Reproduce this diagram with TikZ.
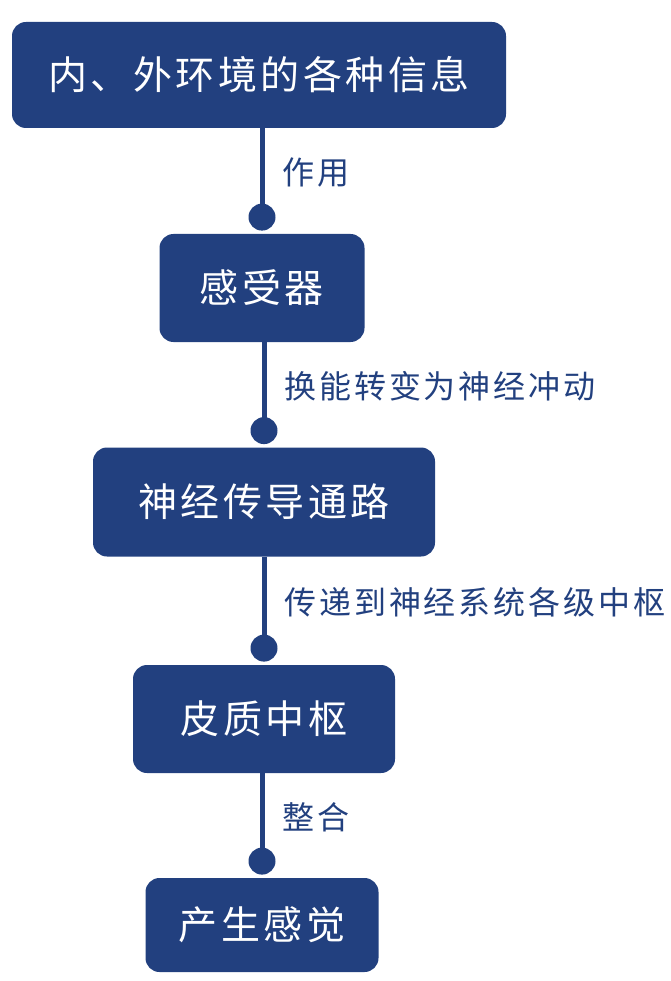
\documentclass[tikz,border=0pt]{standalone}
\usepackage{fontspec}
\newfontfamily\cjk[LetterSpace=9]{Noto Sans CJK SC}
\newfontfamily\cjklabel[LetterSpace=9]{Noto Sans CJK SC}
\usetikzlibrary{positioning}
\definecolor{deepblue}{HTML}{22407F}

\begin{document}
\begin{tikzpicture}[
    x=1pt, y=-1pt,
    stagebox/.style = {rectangle, fill=deepblue, rounded corners=14pt, text=white, inner sep=0pt, minimum height=107pt, font=\cjk\fontsize{39}{39}\selectfont},
    link/.style = {draw=deepblue, line width=5pt},
    joint/.style = {circle, fill=deepblue, inner sep=0pt, minimum size=27pt},
    steplabel/.style = {right, xshift=18pt, inner sep=0pt, text=deepblue, font=\cjklabel\fontsize{32}{32}\selectfont}
]
\useasboundingbox (0,0) rectangle (670,981);

% Stage: environment information
\node (n_info) [stagebox, minimum width=494pt, minimum height=106pt] at (259, 75) {内、外环境的各种信息};

% Stage: receptor
\node (n_receptor) [stagebox, minimum width=205pt, minimum height=108pt] at (262, 288) {感受器};

% Stage: conduction pathway
\node (n_pathway) [stagebox, minimum width=342pt, minimum height=109pt] at (264, 502) {神经传导通路};

% Stage: cortical centre
\node (n_cortex) [stagebox, minimum width=262pt, minimum height=108pt] at (264, 719) {皮质中枢};

% Stage: sensation
\node (n_sense) [stagebox, minimum width=233pt, minimum height=94pt] at (262, 925) {产生感觉};

% Joints
\node (d_receptor) [joint, above=3pt of n_receptor] {};
\node (d_pathway) [joint, above=3pt of n_pathway] {};
\node (d_cortex) [joint, above=3pt of n_cortex] {};
\node (d_sense) [joint, above=3pt of n_sense] {};

% Connections
\draw [link] (n_info.south -| d_receptor) -- node[steplabel]{作用} (d_receptor.center);
\draw [link] (n_receptor.south -| d_pathway) -- node[steplabel]{换能转变为神经冲动} (d_pathway.center);
\draw [link] (n_pathway.south -| d_cortex) -- node[steplabel]{传递到神经系统各级中枢} (d_cortex.center);
\draw [link] (n_cortex.south -| d_sense) -- node[steplabel]{整合} (d_sense.center);

\end{tikzpicture}
\end{document}
